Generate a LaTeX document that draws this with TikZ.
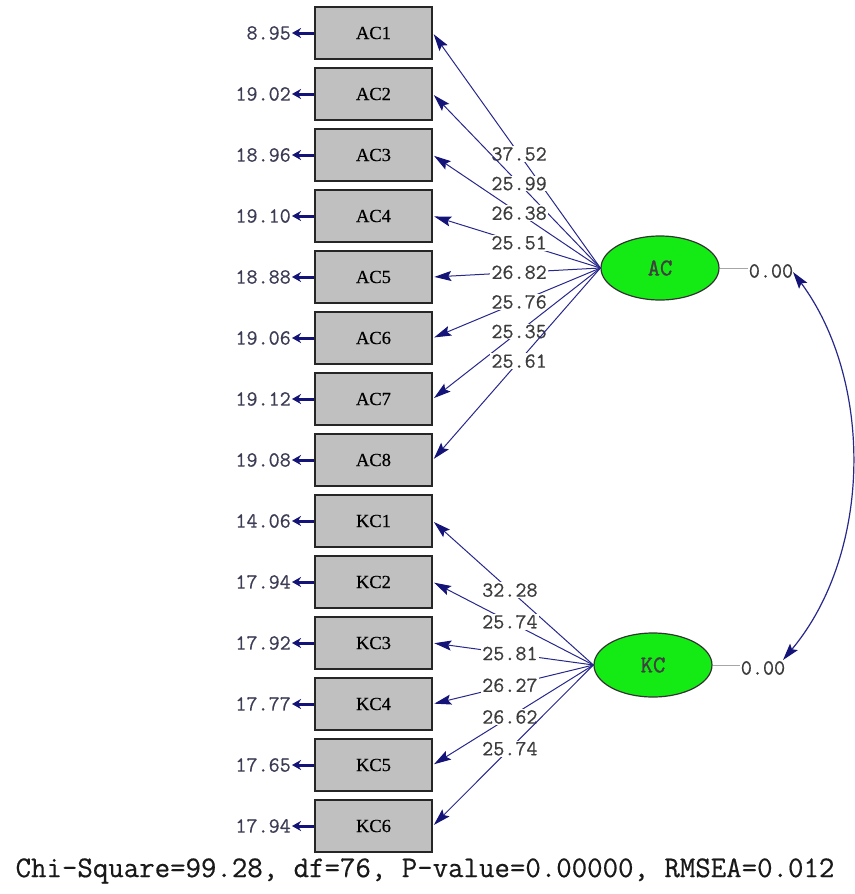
\documentclass[tikz,border=0pt]{standalone}
\usepackage{fontspec}
\setmainfont{Liberation Serif}
\newfontfamily\numfont{Latin Modern Mono}[FakeBold=0.5]
\newfontfamily\latfont{Latin Modern Mono}[FakeBold=1.2]
\newfontfamily\boxfont{Liberation Serif}[FakeBold=0.4]
\usetikzlibrary{shapes.geometric,arrows.meta}
\definecolor{boxgrey}{RGB}{192,192,192}
\definecolor{navy}{RGB}{40,40,140}
\definecolor{headnavy}{RGB}{20,20,120}
\definecolor{numgrey}{RGB}{60,60,60}
\definecolor{errgrey}{RGB}{60,60,85}
\definecolor{latgreen}{RGB}{20,235,20}
\tikzset{
  obs/.style={draw=black!85, line width=1.6pt, fill=boxgrey, minimum width=117pt, minimum height=52pt, inner sep=0pt, font=\boxfont\fontsize{18.5}{18}\selectfont},
  lat/.style={ellipse, draw=black!80, line width=1.2pt, fill=latgreen, minimum width=118pt, minimum height=64pt, inner sep=0pt, text=black!75, font=\latfont\fontsize{24}{24}\selectfont},
  errlbl/.style={anchor=east, text=errgrey, inner sep=1pt, font=\numfont\fontsize{21.5}{21}\selectfont},
  lbl/.style={fill=white, text=numgrey, inner sep=1pt, font=\numfont\fontsize{21.5}{21}\selectfont},
  head/.style={Stealth[length=17pt,width=10pt,inset=3pt,color=headnavy]},
  load/.style={draw=navy, line width=1pt, -{Stealth[length=17pt,width=10pt,inset=3pt,color=headnavy]}, shorten >=1.5pt},
  errarrow/.style={draw=headnavy, line width=3pt, -{Stealth[length=9pt,width=10pt]}},
  stub/.style={draw=black!35, line width=1pt},
}
\begin{document}
\begin{tikzpicture}[x=1pt,y=-1pt]
\useasboundingbox (0,0) rectangle (854,894);
% observed boxes
\foreach \n/\y/\e in {AC1/33/8.95, AC2/94/19.02, AC3/155/18.96, AC4/216/19.10, AC5/277/18.88, AC6/338/19.06, AC7/399/19.12, AC8/460/19.08, KC1/521/14.06, KC2/582/17.94, KC3/643/17.92, KC4/704/17.77, KC5/765/17.65, KC6/826/17.94}{
  \node[obs] (\n) at (373.5,\y) {\n};
  \node[errlbl] (e\n) at (292,\y) {\e};
  \draw[errarrow] (\n.west) -- (e\n.east);
}
% latent variables
\node[lat] (AC) at (660,268) {AC};
\node[lat] (KC) at (653,665) {KC};
% loadings
\foreach \n/\v in {AC1/37.52, AC2/25.99, AC3/26.38, AC4/25.51, AC5/26.82, AC6/25.76, AC7/25.35, AC8/25.61}{
  \draw[load] (AC.west) -- node[pos=0.485, lbl] {\v} (\n.east);
}
\foreach \n/\v in {KC1/32.28, KC2/25.74, KC3/25.81, KC4/26.27, KC5/26.62, KC6/25.74}{
  \draw[load] (KC.west) -- node[pos=0.52, lbl] {\v} (\n.east);
}
% variances of latents
\node[lbl, fill=none] (vAC) at (771,271) {0.00};
\node[lbl, fill=none] (vKC) at (763,668) {0.00};
\draw[stub] (AC.east) -- (vAC.west |- AC.east);
\draw[stub] (KC.east) -- (vKC.west |- KC.east);
% covariance
\coordinate (ca) at (793,272);
\coordinate (cb) at (783,660);
\draw[draw=navy, line width=1.2pt, {Stealth[length=17pt,width=10pt,inset=3pt,color=headnavy]}-{Stealth[length=17pt,width=10pt,inset=3pt,color=headnavy]}] (ca) .. controls (873,380) and (873,552) .. (cb);
% fit statistics
\node[inner sep=0pt, text=black!90, font=\numfont\fontsize{30}{30}\selectfont] (fit) at (425,871) {Chi-Square=99.28, df=76, P-value=0.00000, RMSEA=0.012};
\end{tikzpicture}
\end{document}
